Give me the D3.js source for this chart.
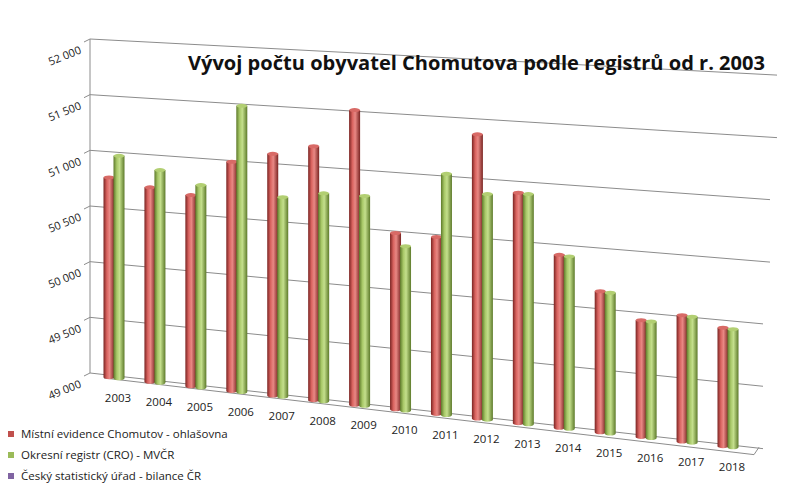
<!DOCTYPE html>
<html><head><meta charset="utf-8">
<script src="https://cdn.jsdelivr.net/npm/d3@7"></script>
<style>body{margin:0;background:#fff}svg{font-family:"Open Sans","Noto Sans",Arial,sans-serif}</style>
</head><body><svg id="c" width="794" height="492"></svg>
<script>
const years=["2003","2004","2005","2006","2007","2008","2009","2010","2011","2012","2013","2014","2015","2016","2017","2018"];
const mistni=[50770,50710,50670,50990,51085,51175,51510,50485,50480,51370,50905,50416,50145,49938,50010,49940];
const okresni=[50970,50870,50765,51485,50715,50775,50780,50380,51020,50875,50900,50410,50140,49935,50005,49935];
const yTicks=[49000,49500,50000,50500,51000,51500,52000];
const seriesNames=["Místní evidence Chomutov - ohlašovna","Okresní registr (CRO) - MVČR","Český statistický úřad - bilance ČR"];
const colors=["#c0504d","#9bbb59","#8064a2"];

const svg=d3.select("#c");
const X0=90,X1=775;
const yL=d3.scaleLinear().domain([49000,52000]).range([373,39]);
const yR=d3.scaleLinear().domain([49000,52000]).range([450,75]);
const yAt=(v,x)=>{const t=(x-X0)/(X1-X0);return yL(v)*(1-t)+yR(v)*t;};
const xs=d3.scalePoint().domain(years).range([114,728]);

yTicks.forEach(v=>{
  const xe = v>=51500?777:(v>=50500?770:763);
  svg.append("line").attr("x1",X0).attr("y1",yAt(v,X0)).attr("x2",xe).attr("y2",yAt(v,xe))
    .attr("stroke","#8c8c8c").attr("stroke-width",1);
  svg.append("line").attr("x1",X0-6).attr("y1",yAt(v,X0)+3).attr("x2",X0).attr("y2",yAt(v,X0)).attr("stroke","#8c8c8c");
  svg.append("text").attr("transform",`translate(82,${yAt(v,X0)+14}) rotate(-22)`)
    .attr("text-anchor","end").attr("font-size",11).attr("fill","#222")
    .text(d3.format(",")(v).replace(","," "));
});
svg.append("line").attr("x1",X0).attr("y1",yAt(52000,X0)).attr("x2",X0).attr("y2",yAt(49000,X0)).attr("stroke","#8c8c8c");
svg.append("line").attr("x1",X0+14).attr("y1",yAt(49000,X0)+5).attr("x2",754).attr("y2",yAt(49000,754)+7).attr("stroke","#8c8c8c");
svg.append("line").attr("x1",754).attr("y1",yAt(49000,754)+7).attr("x2",759).attr("y2",yAt(49000,759)-1).attr("stroke","#8c8c8c");

const defs=svg.append("defs");
[["r","#7a2422","#d9635f","#e98884"],["g","#5d7a2a","#a8c868","#c4df8c"]].forEach(([id,a,b,c])=>{
  const gr=defs.append("linearGradient").attr("id","gr"+id).attr("x1","0").attr("x2","1");
  gr.append("stop").attr("offset","0").attr("stop-color",a);
  gr.append("stop").attr("offset","0.3").attr("stop-color",b);
  gr.append("stop").attr("offset","0.55").attr("stop-color",c);
  gr.append("stop").attr("offset","1").attr("stop-color",a);
});
const W=11;
function cyl(x,v,id,cap){
  const top=yAt(v,x), bot=yAt(49000,x)+2;
  const g=svg.append("g");
  g.append("path").attr("d",`M${x-W/2},${top} L${x-W/2},${bot} A${W/2},2 0 0 0 ${x+W/2},${bot} L${x+W/2},${top} Z`).attr("fill",`url(#gr${id})`);
  g.append("ellipse").attr("cx",x).attr("cy",top).attr("rx",W/2).attr("ry",2).attr("fill",cap);
}
years.forEach((y,i)=>{
  const c=xs(y);
  cyl(c-5,mistni[i],"r","#d86a66");
  cyl(c+5,okresni[i],"g","#b2cf72");
  svg.append("text").attr("x",c+4).attr("y",yAt(49000,c)+26).attr("text-anchor","middle")
    .attr("font-size",11.5).attr("fill","#222").text(y);
});

svg.append("text").attr("x",188).attr("y",70)
  .attr("font-size",20).attr("font-weight","bold").attr("fill","#111")
  .attr("textLength",577).attr("lengthAdjust","spacingAndGlyphs")
  .text("Vývoj počtu obyvatel Chomutova podle registrů od r. 2003");

seriesNames.forEach((n,i)=>{
  const yy=438+i*21;
  svg.append("rect").attr("x",8).attr("y",yy-7).attr("width",6).attr("height",6).attr("fill",colors[i]);
  svg.append("text").attr("x",21).attr("y",yy).attr("font-size",11.5).attr("fill","#222").text(n);
});
</script></body></html>
